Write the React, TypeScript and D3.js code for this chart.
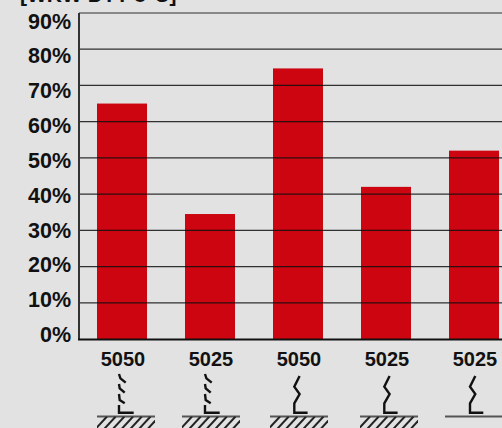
import { useMemo } from 'react'
import * as d3 from 'd3'

const categories = ['5050a', '5025a', '5050b', '5025b', '5025c']
const barLabels = ['5050', '5025', '5050', '5025', '5025']
const values = [65, 34.5, 74.7, 42, 52]
const ticks = [0, 10, 20, 30, 40, 50, 60, 70, 80, 90]
const gripKinds = ['rough', 'rough', 'smooth', 'smooth', 'smooth']
const groundKinds = ['hatched', 'hatched', 'hatched', 'hatched', 'plain']
const titleText = '[WKW DTT-8°C]'

const width = 502
const height = 428
const font = '"Liberation Sans", Arial, sans-serif'

// the symbols are not quite centred under the bars in the original
const symbolShift = [-3, -5, -3.7, -1.7, -4]
const groundStart = [-25, -28, -28, -26, -29]

const roughPath =
  'M0,374 L1.4,378.3 L6.7,382.7 M0,384 L0.7,388.3 L5.7,392.7 M0,394 L0.7,400 L5.7,403.3 M0,405 L0,412.7 L14.7,412.7'
const smoothPath = 'M5.3,376 L0,386.7 L5.3,394 L0,403.3 L0,412.7 L13.3,412.7'

function Symbol({ cx, index }: { cx: number; index: number }) {
  const sx = cx + symbolShift[index]
  const left = cx + groundStart[index]
  const right = left + 58
  const groundY = 416.5
  return (
    <g>
      <path
        d={gripKinds[index] === 'rough' ? roughPath : smoothPath}
        transform={`translate(${sx},0)`}
        fill="none"
        stroke="#111"
        strokeWidth={2.4}
      />
      <line x1={left} x2={groundKinds[index] === 'plain' ? width : right} y1={groundY} y2={groundY} stroke="#555" strokeWidth={2.2} />
      {groundKinds[index] === 'hatched' && (
        <g clipPath={`url(#ground-${index})`}>
          <clipPath id={`ground-${index}`}>
            <rect x={left} y={groundY} width={58} height={height - groundY} />
          </clipPath>
          {d3.range(0, 8).map(i => (
            <line
              key={i}
              x1={left + 10 + i * 8.7}
              x2={left - 2 + i * 8.7}
              y1={groundY}
              y2={groundY + 13}
              stroke="#222"
              strokeWidth={2}
            />
          ))}
        </g>
      )}
    </g>
  )
}

export default function App() {
  const x = useMemo(
    () => d3.scaleBand<string>().domain(categories).range([79, 517]).paddingInner(0.4318).paddingOuter(0.2045),
    []
  )
  const y = useMemo(() => d3.scaleLinear().domain([0, 90]).range([339, 13]), [])
  // tick labels do not sit on their gridlines, they run on a tighter spacing
  const labelY = useMemo(() => d3.scaleLinear().domain([0, 90]).range([342, 28.5]), [])

  return (
    <svg
      width={width}
      height={height}
      style={{ position: 'absolute', left: 0, top: 0, background: '#e2e2e2', display: 'block' }}
      fontFamily={font}
    >
      <text x={20} y={2} fontSize={21} fontWeight={700} fill="#111">{titleText}</text>

      {categories.map((c, i) => (
        <rect key={c} x={x(c)} y={y(values[i])} width={x.bandwidth()} height={y(0) - y(values[i])} fill="#cc0510" />
      ))}

      {ticks.filter(t => t > 0).map(t => (
        <line key={t} x1={79} x2={width} y1={y(t)} y2={y(t)} stroke="#111" strokeWidth={1.2} strokeOpacity={0.85} />
      ))}
      <line x1={79} x2={79} y1={13} y2={340} stroke="#333" strokeWidth={2} />
      <line x1={78} x2={width} y1={339.5} y2={339.5} stroke="#111" strokeWidth={2} />

      {ticks.map(t => (
        <text key={t} x={71} y={labelY(t)} textAnchor="end" fontSize={21.5} fontWeight={700} fill="#111">
          {t}%
        </text>
      ))}

      {categories.map((c, i) => {
        const cx = (x(c) as number) + x.bandwidth() / 2
        return (
          <g key={c}>
            <text x={cx + 1} y={365.5} textAnchor="middle" fontSize={20} fontWeight={700} fill="#111">{barLabels[i]}</text>
            <Symbol cx={cx} index={i} />
          </g>
        )
      })}
    </svg>
  )
}
